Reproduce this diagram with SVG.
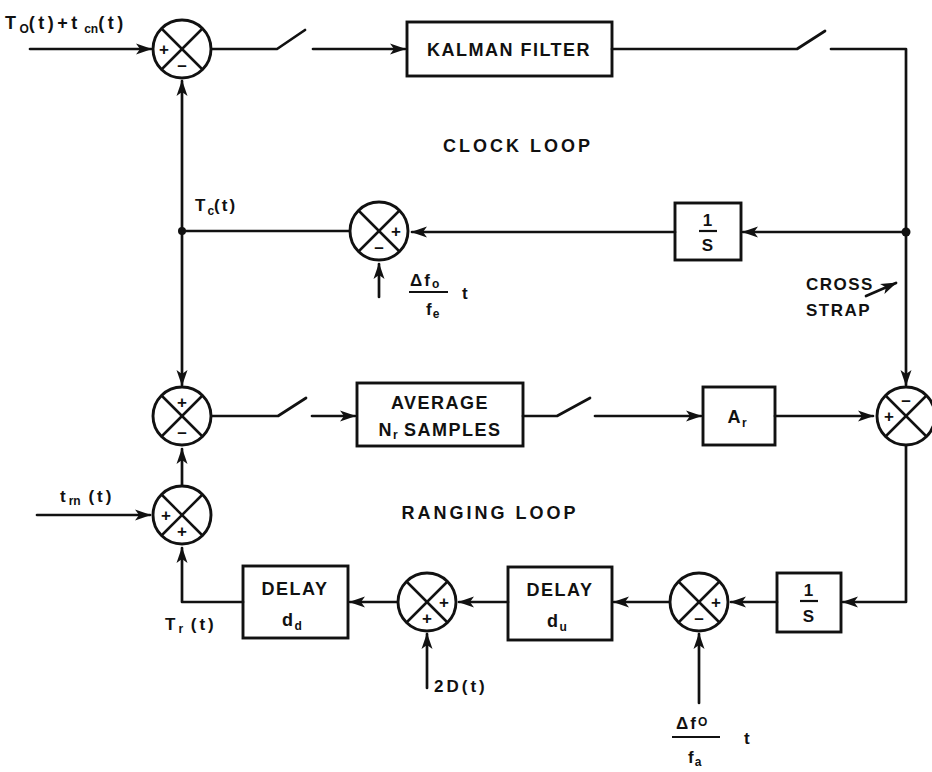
<svg xmlns="http://www.w3.org/2000/svg" width="932" height="772" viewBox="0 0 932 772">
<style>
.ln{fill:none;stroke:#111;stroke-width:2.7;stroke-linecap:round;stroke-linejoin:round}
.bx{fill:none;stroke:#111;stroke-width:2.9}
.sc{fill:#fff;stroke:#111;stroke-width:2.9}
.sx{stroke:#111;stroke-width:2.5}
.t{font-family:"Liberation Sans","DejaVu Sans",sans-serif;font-weight:bold;fill:#111}
.b{font-size:18px;letter-spacing:1.5px}
.l{font-size:17px;letter-spacing:1px}
.sg{font-family:"Liberation Sans",sans-serif;font-weight:bold;font-size:17px;fill:#111;text-anchor:middle}
.sub{font-size:12px;letter-spacing:0}
.fl{stroke:#111;stroke-width:2.2}
</style>
<defs>
<marker id="ah" markerUnits="userSpaceOnUse" markerWidth="18" markerHeight="12" refX="15" refY="6" orient="auto">
<path d="M0,0.5 L16,6 L0,11.5 L4,6 z" fill="#111"/>
</marker>
<symbol id="sum" overflow="visible">
<circle cx="0" cy="0" r="29" class="sc"/>
<line x1="-20.5" y1="-20.5" x2="20.5" y2="20.5" class="sx"/>
<line x1="-20.5" y1="20.5" x2="20.5" y2="-20.5" class="sx"/>
</symbol>
</defs>
<rect width="932" height="772" fill="#fff"/>

<g id="connectors">
<path class="ln" d="M30,49 H151" marker-end="url(#ah)"/>
<path class="ln" d="M211,49 H277 L305,30"/>
<path class="ln" d="M313,49 H405" marker-end="url(#ah)"/>
<path class="ln" d="M612,49 H797 L825,31"/>
<path class="ln" d="M831,49 H906 V385" marker-end="url(#ah)"/>
<path class="ln" d="M182,231 V81" marker-end="url(#ah)"/>
<path class="ln" d="M182,231 V385" marker-end="url(#ah)"/>
<path class="ln" d="M350,231 H182"/>
<path class="ln" d="M906,232 H743" marker-end="url(#ah)"/>
<path class="ln" d="M675,232 H412" marker-end="url(#ah)"/>
<path class="ln" d="M379,297 V264" marker-end="url(#ah)"/>
<path class="ln" d="M866,296 L896,283" marker-end="url(#ah)"/>
<path class="ln" d="M211,416 H278 L306,398"/>
<path class="ln" d="M312,416 H355" marker-end="url(#ah)"/>
<path class="ln" d="M523,416 H557 L590,398"/>
<path class="ln" d="M595,416 H701" marker-end="url(#ah)"/>
<path class="ln" d="M775,416 H873" marker-end="url(#ah)"/>
<path class="ln" d="M906,445 V602 H843" marker-end="url(#ah)"/>
<path class="ln" d="M182,486 V449" marker-end="url(#ah)"/>
<path class="ln" d="M37,515 H150" marker-end="url(#ah)"/>
<path class="ln" d="M243,602 H182 V548" marker-end="url(#ah)"/>
<path class="ln" d="M777,602 H731" marker-end="url(#ah)"/>
<path class="ln" d="M670,602 H614" marker-end="url(#ah)"/>
<path class="ln" d="M508,602 H459" marker-end="url(#ah)"/>
<path class="ln" d="M398,602 H350" marker-end="url(#ah)"/>
<path class="ln" d="M427,688 V634" marker-end="url(#ah)"/>
<path class="ln" d="M699,703 V634" marker-end="url(#ah)"/>
<circle cx="182" cy="231" r="4" fill="#111"/>
<circle cx="906" cy="232" r="4.5" fill="#111"/>
</g>

<g id="sum1"><use href="#sum" x="182" y="49"/>
<text class="sg" x="164" y="55">+</text><text class="sg" x="182" y="71">–</text></g>
<g id="kalman"><rect class="bx" x="407" y="22" width="205" height="54"/>
<text class="t b" x="509" y="56" text-anchor="middle">KALMAN FILTER</text></g>
<g id="sum2"><use href="#sum" x="379" y="231"/>
<text class="sg" x="396" y="237">+</text><text class="sg" x="379" y="253">–</text></g>
<g id="integ1"><rect class="bx" x="675" y="203" width="66" height="57"/>
<text class="t l" x="708" y="226" text-anchor="middle">1</text>
<line class="fl" x1="699" y1="231" x2="717" y2="231"/>
<text class="t l" x="708" y="251" text-anchor="middle">S</text></g>
<g id="sum3"><use href="#sum" x="182" y="416"/>
<text class="sg" x="182" y="408">+</text><text class="sg" x="182" y="438">–</text></g>
<g id="average"><rect class="bx" x="357" y="383" width="166" height="63"/>
<text class="t b" x="440" y="409" text-anchor="middle">AVERAGE</text>
<text class="t b" x="440" y="436" text-anchor="middle">N<tspan class="sub" dy="3">r</tspan><tspan dy="-3"> SAMPLES</tspan></text></g>
<g id="gain"><rect class="bx" x="703" y="387" width="72" height="58"/>
<text class="t b" x="737" y="423" text-anchor="middle">A<tspan class="sub" dy="4">r</tspan></text></g>
<g id="sum4"><use href="#sum" x="906" y="416"/>
<text class="sg" x="906" y="406">–</text><text class="sg" x="889" y="422">+</text></g>
<g id="sum5"><use href="#sum" x="182" y="515"/>
<text class="sg" x="166" y="521">+</text><text class="sg" x="182" y="537">+</text></g>
<g id="delayd"><rect class="bx" x="243" y="566" width="105" height="72"/>
<text class="t b" x="295" y="595" text-anchor="middle">DELAY</text>
<text class="t b" x="292" y="626" text-anchor="middle">d<tspan class="sub" dy="4">d</tspan></text></g>
<g id="sum6"><use href="#sum" x="427" y="602"/>
<text class="sg" x="444" y="608">+</text><text class="sg" x="427" y="624">+</text></g>
<g id="delayu"><rect class="bx" x="508" y="567" width="104" height="73"/>
<text class="t b" x="560" y="596" text-anchor="middle">DELAY</text>
<text class="t b" x="557" y="627" text-anchor="middle">d<tspan class="sub" dy="4">u</tspan></text></g>
<g id="sum7"><use href="#sum" x="699" y="602"/>
<text class="sg" x="716" y="608">+</text><text class="sg" x="699" y="624">–</text></g>
<g id="integ2"><rect class="bx" x="777" y="573" width="64" height="59"/>
<text class="t l" x="809" y="596" text-anchor="middle">1</text>
<line class="fl" x1="800" y1="601" x2="818" y2="601"/>
<text class="t l" x="809" y="622" text-anchor="middle">S</text></g>

<g id="labels">
<text class="t" x="5" y="29" style="font-size:18px;letter-spacing:3.5px">T<tspan class="sub" dy="4">O</tspan><tspan dy="-4">(t)+t</tspan><tspan class="sub" dy="4"> cn</tspan><tspan dy="-4">(t)</tspan></text>
<text class="t b" x="518" y="152" text-anchor="middle" style="letter-spacing:3px">CLOCK LOOP</text>
<text class="t l" x="195" y="211" style="letter-spacing:2px">T<tspan class="sub" dy="4">c</tspan><tspan dy="-4">(t)</tspan></text>
<text class="t l" x="410" y="286" style="letter-spacing:2px">Δf<tspan class="sub" dy="2">o</tspan></text>
<line class="fl" x1="409" y1="292" x2="448" y2="292"/>
<text class="t l" x="426" y="315">f<tspan class="sub" dy="3">e</tspan></text>
<text class="t l" x="462" y="299">t</text>
<text class="t l" x="806" y="290" style="letter-spacing:1.5px">CROSS</text>
<text class="t l" x="806" y="316" style="letter-spacing:1.5px">STRAP</text>
<text class="t b" x="490" y="519" text-anchor="middle" style="letter-spacing:3px">RANGING LOOP</text>
<text class="t l" x="60" y="502" style="letter-spacing:3px">t<tspan class="sub" dy="3">rn</tspan><tspan dy="-3"> (t)</tspan></text>
<text class="t l" x="165" y="630" style="letter-spacing:3px">T<tspan class="sub" dy="3">r</tspan><tspan dy="-3"> (t)</tspan></text>
<text class="t l" x="434" y="692" style="letter-spacing:3px">2D(t)</text>
<text class="t l" x="676" y="729" style="letter-spacing:2px">Δf<tspan class="sub" dy="-3">O</tspan></text>
<line class="fl" x1="672" y1="737" x2="720" y2="737"/>
<text class="t l" x="688" y="763">f<tspan class="sub" dy="3">a</tspan></text>
<text class="t l" x="744" y="744">t</text>
</g>
</svg>
